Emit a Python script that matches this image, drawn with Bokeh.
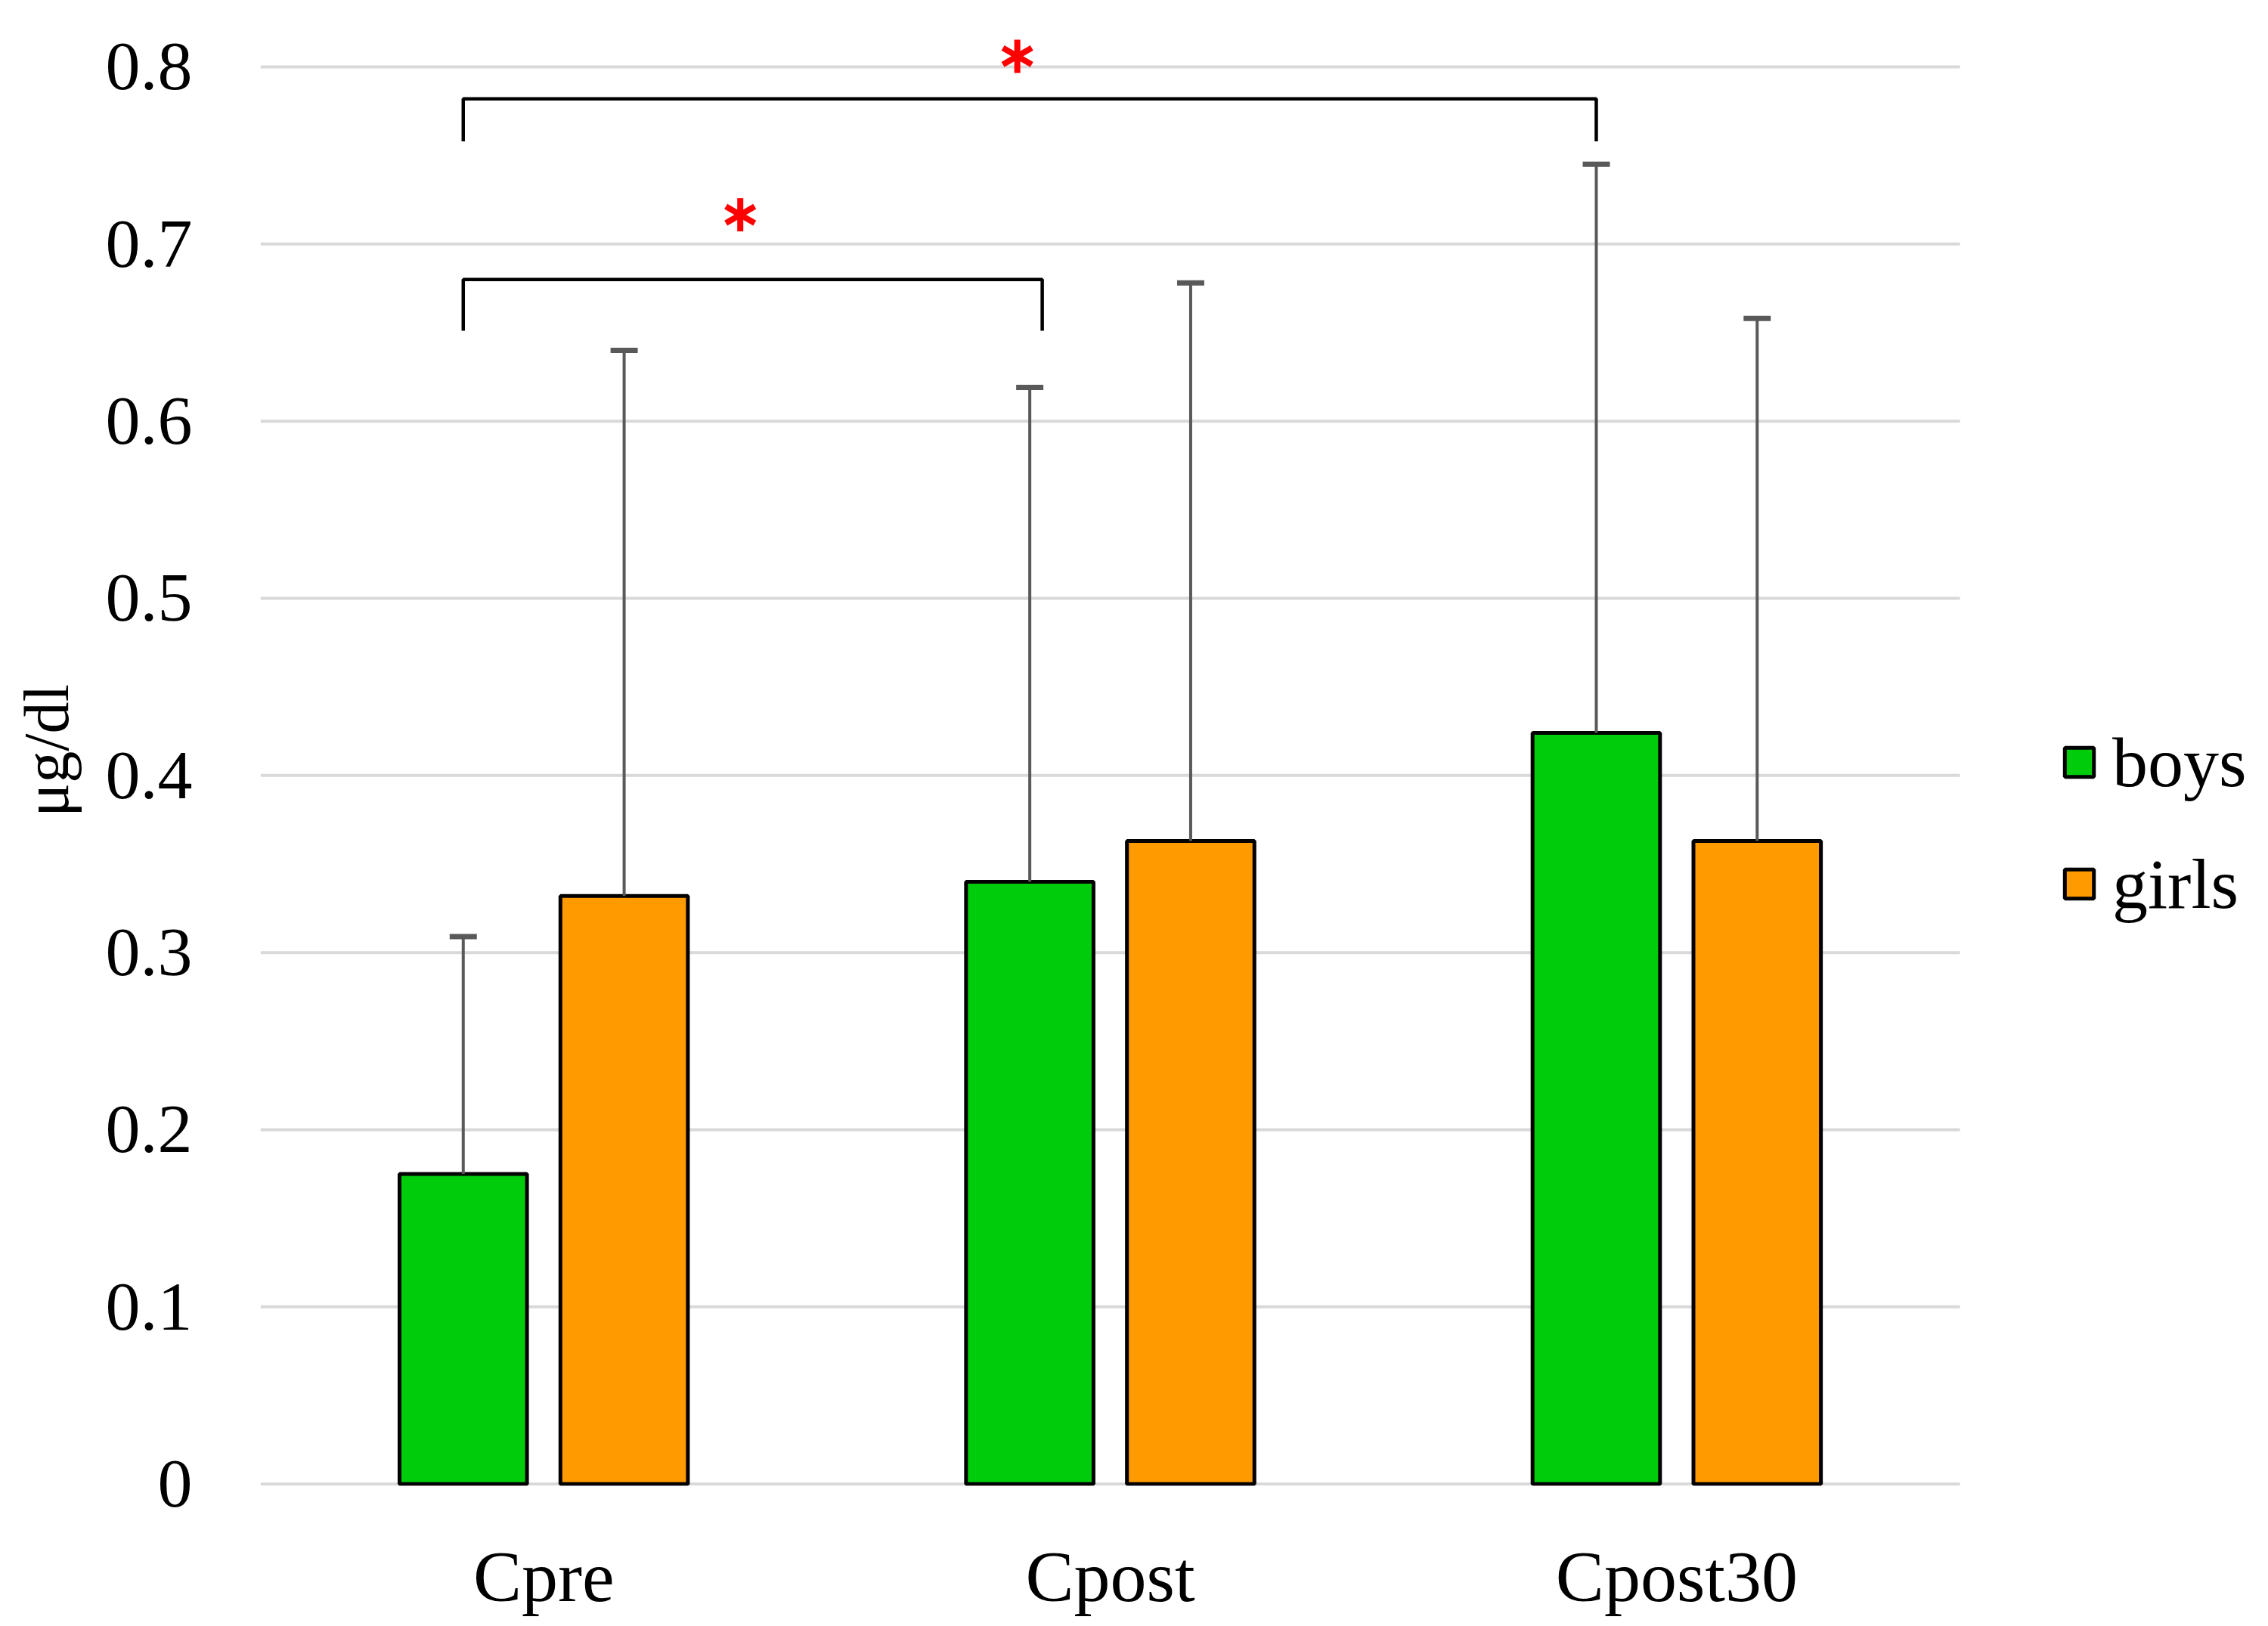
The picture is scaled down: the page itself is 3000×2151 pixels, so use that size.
import math
from bokeh.plotting import figure
from bokeh.models import ColumnDataSource, Range1d, FixedTicker, CustomJSTickFormatter
from bokeh.embed import file_html
from bokeh.resources import INLINE

# ---- data ----
categories = ["Cpre", "Cpost", "Cpost30"]
boys_mean = [0.175, 0.340, 0.424]
boys_upper = [0.309, 0.619, 0.745]
girls_mean = [0.332, 0.363, 0.363]
girls_upper = [0.640, 0.678, 0.658]

y_ticks = [0, 0.1, 0.2, 0.3, 0.4, 0.5, 0.6, 0.7, 0.8]
y_tick_labels = ["0", "0.1", "0.2", "0.3", "0.4", "0.5", "0.6", "0.7", "0.8"]

# significance brackets (from category, to category, bracket height, leg end, star centre)
sig_from = ["Cpre", "Cpre"]
sig_to = ["Cpost", "Cpost30"]
sig_to_shift = [0.022, 0.0]
sig_bar_y = [0.680, 0.782]
sig_leg_y = [0.651, 0.758]
sig_star_y = [0.7165, 0.806]

FONT = "Liberation Serif"
GREEN = "#00CC0C"
ORANGE = "#FF9A00"
ERR = "#595959"
GRID = "#D9D9D9"
BOYS_OFF = -0.142
GIRLS_OFF = 0.142
BAR_W = 0.225
CAP_HALF = 0.024
X_END = 3.523   # room on the right of the categories for the legend

n = len(categories)
centers = [i + 0.5 for i in range(n)]
bx = [c + BOYS_OFF for c in centers]
gx = [c + GIRLS_OFF for c in centers]

src = ColumnDataSource(dict(bx=bx, gx=gx,
                            bx0=[x - CAP_HALF for x in bx], bx1=[x + CAP_HALF for x in bx],
                            gx0=[x - CAP_HALF for x in gx], gx1=[x + CAP_HALF for x in gx],
                            boys=boys_mean, boys_up=boys_upper,
                            girls=girls_mean, girls_up=girls_upper))

p = figure(x_range=Range1d(0, X_END),
           y_range=Range1d(-0.001, 0.829),
           width=2984, height=2143,
           min_border_left=344, min_border_right=0,
           min_border_top=20, min_border_bottom=178,
           output_backend="svg", toolbar_location=None)

p.outline_line_color = None
p.xgrid.grid_line_color = None
p.ygrid.grid_line_color = None

# horizontal gridlines only across the category area
p.segment(x0=[0] * len(y_ticks), x1=[n] * len(y_ticks), y0=y_ticks, y1=y_ticks,
          line_color=GRID, line_width=4, level="underlay")

p.yaxis.ticker = FixedTicker(ticks=y_ticks)
p.yaxis.formatter = CustomJSTickFormatter(
    args=dict(tv=y_ticks, tl=y_tick_labels),
    code="""
    let best = 0;
    for (let i = 0; i < tv.length; i++) {
        if (Math.abs(tv[i] - tick) < Math.abs(tv[best] - tick)) best = i;
    }
    return tl[best];
    """)
p.xaxis.ticker = FixedTicker(ticks=centers)
p.xaxis.formatter = CustomJSTickFormatter(
    args=dict(cats=categories),
    code="const i = Math.round(tick - 0.5); return (i >= 0 && i < cats.length) ? cats[i] : '';")

p.axis.axis_line_color = None
p.axis.major_tick_line_color = None
p.axis.minor_tick_line_color = None
p.axis.major_label_text_font = FONT
p.axis.major_label_text_color = "black"

p.yaxis.major_label_text_font_size = "92px"
p.yaxis.major_label_standoff = 84
p.yaxis.axis_label = "μg/dl"
p.yaxis.axis_label_text_font = FONT
p.yaxis.axis_label_text_font_size = "84px"
p.yaxis.axis_label_text_font_style = "normal"
p.yaxis.axis_label_text_color = "black"
p.yaxis.axis_label_standoff = 29

p.xaxis.major_label_text_font_size = "96px"
p.xaxis.major_label_standoff = 60

p.vbar(x="bx", top="boys", width=BAR_W, source=src,
       fill_color=GREEN, line_color="black", line_width=5, legend_label="boys")
p.vbar(x="gx", top="girls", width=BAR_W, source=src,
       fill_color=ORANGE, line_color="black", line_width=5, legend_label="girls")

# error bars (upper only): stem + cap
p.segment(x0="bx", y0="boys", x1="bx", y1="boys_up", source=src, line_color=ERR, line_width=4)
p.segment(x0="gx", y0="girls", x1="gx", y1="girls_up", source=src, line_color=ERR, line_width=4)
p.segment(x0="bx0", y0="boys_up", x1="bx1", y1="boys_up", source=src, line_color=ERR, line_width=7)
p.segment(x0="gx0", y0="girls_up", x1="gx1", y1="girls_up", source=src, line_color=ERR, line_width=7)

# significance brackets with red six-spoke asterisks
xs, ys, ax_, ay_, aang = [], [], [], [], []
for f, t, sh, by, ly, sy in zip(sig_from, sig_to, sig_to_shift, sig_bar_y,
                                sig_leg_y, sig_star_y):
    x0 = centers[categories.index(f)] + BOYS_OFF
    x1 = centers[categories.index(t)] + BOYS_OFF + sh
    xs.append([x0, x0, x1, x1])
    ys.append([ly, by, by, ly])
    for a in (math.pi / 2, math.pi / 6, -math.pi / 6):
        ax_.append((x0 + x1) / 2 - 0.022)
        ay_.append(sy)
        aang.append(a)
p.multi_line(xs=xs, ys=ys, line_color="black", line_width=4.5)
p.scatter(x=ax_, y=ay_, angle=aang, marker="dash", size=44,
          line_color="red", line_width=8)

lg = p.legend[0]
lg.location = (2382, 742)
lg.glyph_width = 48
lg.glyph_height = 48
lg.label_text_font = FONT
lg.label_text_font_size = "94px"
lg.label_text_color = "black"
lg.label_standoff = 20
lg.spacing = 53
lg.padding = 0
lg.margin = 0
lg.border_line_color = None
lg.background_fill_alpha = 0

open("out.html", "w").write(file_html(p, INLINE))
